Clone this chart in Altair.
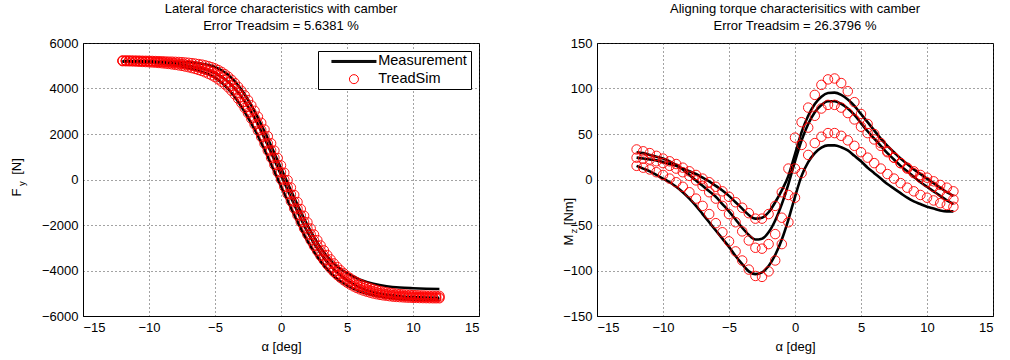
import altair as alt
import pandas as pd

FONT = "Liberation Sans"

# ---------------- data ----------------
alpha_deg1 = [-12, -11, -10, -9, -8, -7, -6, -5, -4, -3, -2, -1, 0,
              1, 2, 3, 4, 5, 6, 7, 8, 9, 10, 11, 12]
alpha_half = [-12.0, -11.5, -11.0, -10.5, -10.0, -9.5, -9.0, -8.5, -8.0, -7.5,
              -7.0, -6.5, -6.0, -5.5, -5.0, -4.5, -4.0, -3.5, -3.0, -2.5,
              -2.0, -1.5, -1.0, -0.5, 0.0, 0.5, 1.0, 1.5, 2.0, 2.5,
              3.0, 3.5, 4.0, 4.5, 5.0, 5.5, 6.0, 6.5, 7.0, 7.5,
              8.0, 8.5, 9.0, 9.5, 10.0, 10.5, 11.0, 11.5, 12.0]
alpha_quarter = [-12.0, -11.75, -11.5, -11.25, -11.0, -10.75, -10.5, -10.25,
                 -10.0, -9.75, -9.5, -9.25, -9.0, -8.75, -8.5, -8.25,
                 -8.0, -7.75, -7.5, -7.25, -7.0, -6.75, -6.5, -6.25,
                 -6.0, -5.75, -5.5, -5.25, -5.0, -4.75, -4.5, -4.25,
                 -4.0, -3.75, -3.5, -3.25, -3.0, -2.75, -2.5, -2.25,
                 -2.0, -1.75, -1.5, -1.25, -1.0, -0.75, -0.5, -0.25,
                 0.0, 0.25, 0.5, 0.75, 1.0, 1.25, 1.5, 1.75,
                 2.0, 2.25, 2.5, 2.75, 3.0, 3.25, 3.5, 3.75,
                 4.0, 4.25, 4.5, 4.75, 5.0, 5.25, 5.5, 5.75,
                 6.0, 6.25, 6.5, 6.75, 7.0, 7.25, 7.5, 7.75,
                 8.0, 8.25, 8.5, 8.75, 9.0, 9.25, 9.5, 9.75,
                 10.0, 10.25, 10.5, 10.75, 11.0, 11.25, 11.5, 11.75, 12.0]

# Lateral force, measurement (3 camber angles), 1 deg steps
fy_meas_a = [5210, 5205, 5200, 5190, 5175, 5150, 5090, 4950, 4600, 3950, 3000, 1800, 500,
             -800, -2000, -3000, -3700, -4120, -4400, -4580, -4690, -4750, -4780, -4800, -4810]
fy_meas_b = [5180, 5170, 5150, 5120, 5075, 5000, 4880, 4680, 4300, 3650, 2700, 1500, 200,
             -1100, -2300, -3250, -3950, -4430, -4750, -4950, -5060, -5130, -5170, -5190, -5200]
fy_meas_c = [5190, 5170, 5140, 5090, 5010, 4900, 4740, 4480, 3980, 3200, 2200, 1000, -300,
             -1550, -2700, -3600, -4250, -4650, -4920, -5090, -5190, -5250, -5280, -5295, -5300]

# Lateral force, TreadSim, 0.25 deg steps
fy_sim_1 = [5230, 5230, 5230, 5228, 5225, 5223, 5220, 5218,
            5215, 5210, 5205, 5200, 5195, 5188, 5180, 5178,
            5172, 5165, 5155, 5143, 5130, 5113, 5095, 5073,
            5050, 5018, 4980, 4935, 4880, 4810, 4730, 4630,
            4520, 4385, 4240, 4075, 3900, 3700, 3490, 3260,
            3020, 2760, 2490, 2200, 1900, 1590, 1270, 945,
            620, 295, -30, -355, -680, -990, -1300, -1595,
            -1880, -2155, -2420, -2665, -2900, -3115, -3320, -3510,
            -3690, -3845, -3990, -4120, -4240, -4345, -4440, -4525,
            -4600, -4665, -4720, -4772, -4820, -4862, -4900, -4932,
            -4960, -4982, -5000, -5022, -5040, -5050, -5060, -5070,
            -5080, -5088, -5095, -5100, -5105, -5108, -5110, -5113, -5115]
fy_sim_2 = [5220, 5218, 5215, 5213, 5210, 5205, 5200, 5195,
            5190, 5183, 5175, 5168, 5160, 5150, 5140, 5125,
            5110, 5093, 5075, 5053, 5030, 5000, 4970, 4932,
            4890, 4842, 4790, 4728, 4660, 4580, 4490, 4380,
            4260, 4120, 3970, 3800, 3620, 3415, 3200, 2965,
            2720, 2455, 2180, 1890, 1590, 1280, 960, 640,
            320, -5, -330, -650, -970, -1280, -1580, -1870,
            -2150, -2415, -2670, -2905, -3130, -3335, -3530, -3705,
            -3870, -4015, -4150, -4270, -4380, -4475, -4560, -4640,
            -4710, -4772, -4830, -4877, -4920, -4957, -4990, -5017,
            -5040, -5062, -5080, -5097, -5110, -5120, -5130, -5140,
            -5150, -5155, -5160, -5165, -5170, -5173, -5175, -5178, -5180]
fy_sim_3 = [5200, 5198, 5195, 5190, 5185, 5178, 5170, 5163,
            5155, 5145, 5135, 5123, 5110, 5095, 5080, 5060,
            5040, 5018, 4995, 4965, 4935, 4898, 4860, 4815,
            4770, 4712, 4650, 4578, 4500, 4405, 4300, 4180,
            4050, 3900, 3740, 3555, 3360, 3145, 2920, 2675,
            2420, 2150, 1870, 1575, 1270, 955, 640, 320,
            0, -320, -640, -955, -1270, -1575, -1870, -2150,
            -2420, -2675, -2920, -3145, -3360, -3555, -3740, -3905,
            -4060, -4195, -4320, -4430, -4530, -4620, -4700, -4770,
            -4830, -4883, -4930, -4972, -5010, -5042, -5070, -5092,
            -5110, -5130, -5150, -5160, -5170, -5180, -5190, -5195,
            -5200, -5205, -5210, -5213, -5215, -5218, -5220, -5220, -5220]

# Aligning torque, measurement, 0.5 deg steps
mz_meas_u = [24, 23, 22, 21, 19, 17, 15, 12, 9, 6, 2, -2, -7, -12, -18, -25, -32, -39,
             -43, -42, -36, -25, -12, 4, 28, 52, 70, 83, 91, 95, 95.5, 93,
             88, 81, 72, 63, 54, 45, 37, 30, 23, 17, 11, 6, 1, -4, -9, -14, -18]
mz_meas_m = [30, 29, 27, 25, 23, 20, 16, 11, 5, -1, -7, -13, -19, -27, -35, -44, -53, -61,
             -66, -65, -58, -45, -27, -5, 20, 43, 61, 74, 82, 86, 86, 83,
             78, 71, 62, 53, 45, 37, 29, 22, 15, 9, 3, -3, -8, -13, -18, -23, -27]
mz_meas_d = [15, 12, 9, 5, 1, -3, -8, -14, -21, -29, -38, -47, -56, -65, -74, -84, -93, -101,
             -104, -102, -95, -83, -66, -44, -19, 4, 19, 29, 35, 37.5, 37.5, 35.5,
             32, 26, 20, 13, 7, 1, -5, -10, -15, -20, -24, -27, -30, -32, -34, -35, -35]

# Aligning torque, TreadSim, 0.5 deg steps
mz_sim_u = [33, 31, 29, 26, 23, 20, 17, 13, 9, 5, 1, -3, -8, -13, -19, -25, -31, -37,
            -43, -43, -38, -29, -14, 12, 46, 63, 79, 93, 104, 110, 111, 106,
            97, 85, 72, 61, 50, 40, 31, 24, 18, 13, 9, 5, 2, -2, -6, -9, -13]
mz_sim_m = [24, 23, 22, 20, 18, 15, 12, 8, 4, -1, -7, -14, -21, -29, -38, -47, -57, -67,
            -75, -76, -71, -60, -42, -17, 12, 38, 57, 70, 78, 82, 82, 79,
            73, 66, 58, 51, 44, 37, 30, 24, 18, 12, 7, 2, -3, -8, -13, -18, -22]
mz_sim_d = [15, 13, 11, 8, 5, 1, -3, -8, -14, -21, -29, -38, -48, -58, -68, -79, -89, -99,
            -106, -107, -101, -89, -71, -47, -20, 7, 27, 40, 47, 51, 51, 48,
            43, 37, 30, 24, 18, 12, 6, 1, -4, -9, -13, -17, -20, -23, -26, -28, -30]

x_ticks = [-15, -10, -5, 0, 5, 10, 15]
fy_ticks = [-6000, -4000, -2000, 0, 2000, 4000, 6000]
mz_ticks = [-150, -100, -50, 0, 50, 100, 150]

series_kinds = ["Measurement", "TreadSim"]
title_left = ["Lateral force characteristics with camber", "Error Treadsim = 5.6381 %"]
title_right = ["Aligning torque characterisitics with camber", "Error Treadsim = 26.3796 %"]


def long_df(alpha, curves, kind):
    rows = []
    for name, vals in curves.items():
        for a, v in zip(alpha, vals):
            rows.append({"alpha": a, "val": v, "curve": name, "kind": kind})
    return pd.DataFrame(rows)


fy_lines = long_df(alpha_deg1, {"a": fy_meas_a, "b": fy_meas_b, "c": fy_meas_c}, "Measurement")
fy_pts = long_df(alpha_quarter, {"a": fy_sim_1, "b": fy_sim_2, "c": fy_sim_3}, "TreadSim")
mz_lines = long_df(alpha_half, {"a": mz_meas_u, "b": mz_meas_m, "c": mz_meas_d}, "Measurement")
mz_pts = long_df(alpha_half, {"a": mz_sim_u, "b": mz_sim_m, "c": mz_sim_d}, "TreadSim")

LINE_PATH = "M-5,-0.22L5,-0.22M-5,0L5,0M-5,0.22L5,0.22"

legend_left = alt.Legend(
    title=None, orient="top-right", offset=8, padding=3.2,
    fillColor="white", strokeColor="black",
    labelFont=FONT, labelFontSize=14.5, labelColor="black",
    symbolSize=81, symbolStrokeWidth=1, symbolOffset=25.5, labelOffset=17,
    rowPadding=2.7,
)


def panel(lines_df, pts_df, yticks, titletext, ytitle_parts, legend):
    xenc = alt.X("alpha:Q", scale=alt.Scale(domain=[x_ticks[0], x_ticks[-1]], nice=False),
                 axis=alt.Axis(values=x_ticks, title="α [deg]", grid=True, titlePadding=6))
    yenc = alt.Y("val:Q", scale=alt.Scale(domain=[yticks[0], yticks[-1]], nice=False),
                 axis=alt.Axis(values=yticks, title=None, grid=True, format="d"))
    color = alt.Color("kind:N", scale=alt.Scale(domain=series_kinds, range=["#000000", "#ff0000"]),
                      legend=legend)
    shape = alt.Shape("kind:N", scale=alt.Scale(domain=series_kinds, range=[LINE_PATH, "circle"]),
                      legend=legend)
    lines = alt.Chart(lines_df).mark_line(strokeWidth=2.6, interpolate="monotone").encode(
        x=xenc, y=yenc, color=color, detail="curve:N")
    pts = alt.Chart(pts_df).mark_point(filled=False, size=90, strokeWidth=0.9, opacity=1).encode(
        x=xenc, y=yenc, color=color, shape=shape)
    layers = [lines, pts]
    for txt, fs, xv, yv in ytitle_parts:
        layers.append(
            alt.Chart(pd.DataFrame({"t": [txt]})).mark_text(
                text=txt, angle=270, font=FONT, fontSize=fs, color="black",
                align="center", baseline="middle").encode(x=alt.value(xv), y=alt.value(yv))
        )
    return alt.layer(*layers).properties(
        width=396, height=273,
        title=alt.TitleParams(text=titletext, font=FONT, fontSize=13, fontWeight="normal",
                              color="black", lineHeight=17, offset=4, anchor="middle"),
    )


left = panel(fy_lines, fy_pts, fy_ticks, title_left,
             [("F", 13, -66, 149.5), ("y", 9.5, -61, 140.5), ("[N]", 13, -66, 123.5)],
             legend_left)
right = panel(mz_lines, mz_pts, mz_ticks, title_right,
              [("M", 13, -28, 197), ("z", 9.5, -23, 188), ("[Nm]", 13, -28, 168.5)],
              None)

chart = alt.hconcat(left, right, spacing=82).resolve_scale(
    color="independent", shape="independent"
).resolve_legend(color="independent", shape="independent").properties(
    padding={"left": 10, "top": 2, "right": 0, "bottom": 0},
    background="white",
).configure_view(stroke="black", strokeWidth=1).configure_axis(
    labelFont=FONT, labelFontSize=13, labelColor="black",
    titleFont=FONT, titleFontSize=13, titleColor="black", titleFontWeight="normal",
    domainColor="black", domainWidth=1, ticks=False, labelPadding=5,
    gridColor="#333333", gridDash=[1, 3], gridWidth=1, gridOpacity=0.9,
)

chart.save("out.html", embed_options={"renderer": "svg", "actions": False})
